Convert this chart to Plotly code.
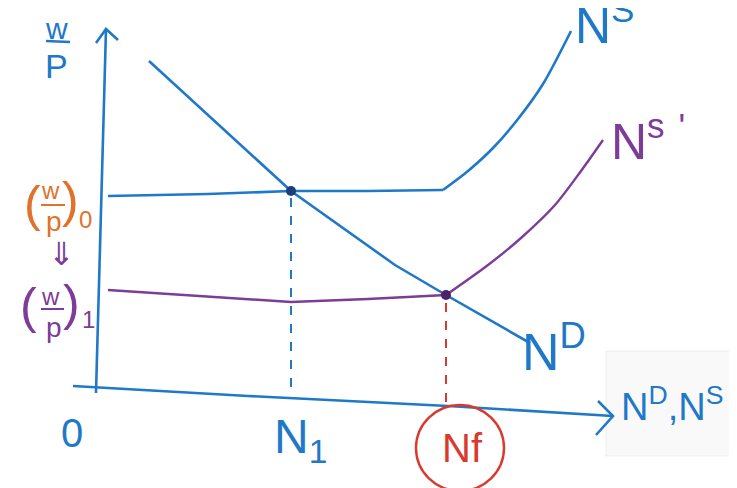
import plotly.graph_objects as go

# ---- data (chart units: origin at the axes corner, y upward) ----
nd_x = [51, 193, 297, 348, 432]
nd_y = [327, 197, 123, 93, 45]

ns_flat_x = [10, 110, 193, 270, 345]
ns_flat_y = [192, 194, 197, 197, 198]
ns_rise_x = [345, 370, 395, 420, 445, 473]
ns_rise_y = [198, 217, 240, 269, 304, 357]

ns1_flat_x = [10, 40, 110, 193, 270, 348]
ns1_flat_y = [98, 96, 91, 86, 89, 93]
ns1_rise_x = [348, 390, 423, 457, 483, 505]
ns1_rise_y = [93, 123, 150, 183, 217, 248]

eq_x = [193, 348]
eq_y = [197, 93]

n1_x = 193
nf_x = 348

BLUE = "#1f78c8"
PURPLE = "#7d3c98"
ORANGE = "#e0722c"
RED = "#d93a2e"
FONT = "Liberation Sans"

fig = go.Figure()

def line(x, y, color, width=3, dash=None, shape="linear"):
    fig.add_trace(go.Scatter(x=x, y=y, mode="lines",
                             line=dict(color=color, width=width, dash=dash, shape=shape,
                                       smoothing=0.8),
                             hoverinfo="skip", showlegend=False))

# axes (hand drawn, slightly tilted)
line([-2, 8], [-5, 359], BLUE, 2.6)
line([-2, 8, 20], [345, 359, 348], BLUE, 2.6)
line([-25, 150, 350, 515], [2, -8, -18, -28], BLUE, 2.6)
line([500, 515, 498], [-13, -28, -47], BLUE, 2.6)

# dashed guides
line([n1_x, n1_x], [190, -8], BLUE, 2, "dash")
line([nf_x, nf_x], [85, -20], RED, 2, "dash")

# curves
line(nd_x, nd_y, BLUE, 2.6)
line(ns_flat_x, ns_flat_y, BLUE, 2.6)
line(ns_rise_x, ns_rise_y, BLUE, 2.6, shape="spline")
line(ns1_flat_x, ns1_flat_y, PURPLE, 2.4)
line(ns1_rise_x, ns1_rise_y, PURPLE, 2.4, shape="spline")

fig.add_trace(go.Scatter(x=eq_x, y=eq_y, mode="markers",
                         marker=dict(color=["#1a3f7a", "#4a2466"], size=10),
                         hoverinfo="skip", showlegend=False))

def P(px, py):
    return px - 90, 380 - py

def txt(px, py, s, color, size, **kw):
    x, y = P(px, py)
    fig.add_annotation(x=x, y=y, text=s, showarrow=False,
                       font=dict(color=color, size=size, family=FONT), **kw)

# y label w/P
txt(48, 20, "w", BLUE, 30)
txt(48, 58, "P", BLUE, 34)
# (w/p)0
txt(24, 196, "(", ORANGE, 50)
txt(42, 182, "w", ORANGE, 24)
txt(46, 213, "p", ORANGE, 28)
txt(62, 192, ")", ORANGE, 50)
txt(77, 211, "0", ORANGE, 24)
txt(53, 246, "⇓", PURPLE, 32)
# (w/p)1
txt(20, 298, "(", PURPLE, 50)
txt(42, 288, "w", PURPLE, 24)
txt(46, 319, "p", PURPLE, 28)
txt(63, 295, ")", PURPLE, 50)
txt(80, 311, "1", PURPLE, 24)

txt(64, 425, "0", BLUE, 40)
txt(292, 432, "N<sub>1</sub>", BLUE, 48)
txt(454, 440, "Nf", RED, 40)
txt(546, 340, "N<sup>D</sup>", BLUE, 52)
txt(664, 396, "N<sup>D</sup>,N<sup>S</sup>", BLUE, 38)
txt(596, 14, "N<sup>S</sup>", BLUE, 50)
txt(640, 130, "N<sup>s</sup> <sup>'</sup>", PURPLE, 50)

shapes = []
def seg(p1, p2, color, w=2.4):
    x0, y0 = P(*p1); x1, y1 = P(*p2)
    shapes.append(dict(type="line", x0=x0, y0=y0, x1=x1, y1=y1,
                       line=dict(color=color, width=w), layer="above"))
seg((38, 33), (62, 34), BLUE)
seg((33, 197), (57, 197), ORANGE, 2)
seg((33, 301), (56, 301), PURPLE, 2)

cx, cy = P(452, 440)
shapes.append(dict(type="circle", x0=cx - 44, x1=cx + 44, y0=cy - 43, y1=cy + 43,
                   line=dict(color=RED, width=2.4)))
bx0, by0 = P(598, 343); bx1, by1 = P(737, 448)
shapes.append(dict(type="rect", x0=bx0, x1=bx1, y0=by1, y1=by0,
                   fillcolor="rgba(0,0,0,0.025)", line=dict(color="rgba(0,0,0,0.06)", width=1),
                   layer="below"))

fig.update_layout(
    width=737, height=488, margin=dict(l=0, r=0, t=0, b=0),
    paper_bgcolor="white", plot_bgcolor="white",
    xaxis=dict(range=[-90, 647], visible=False, fixedrange=True),
    yaxis=dict(range=[-108, 380], visible=False, fixedrange=True),
    shapes=shapes,
)
fig.write_html("out.html")
